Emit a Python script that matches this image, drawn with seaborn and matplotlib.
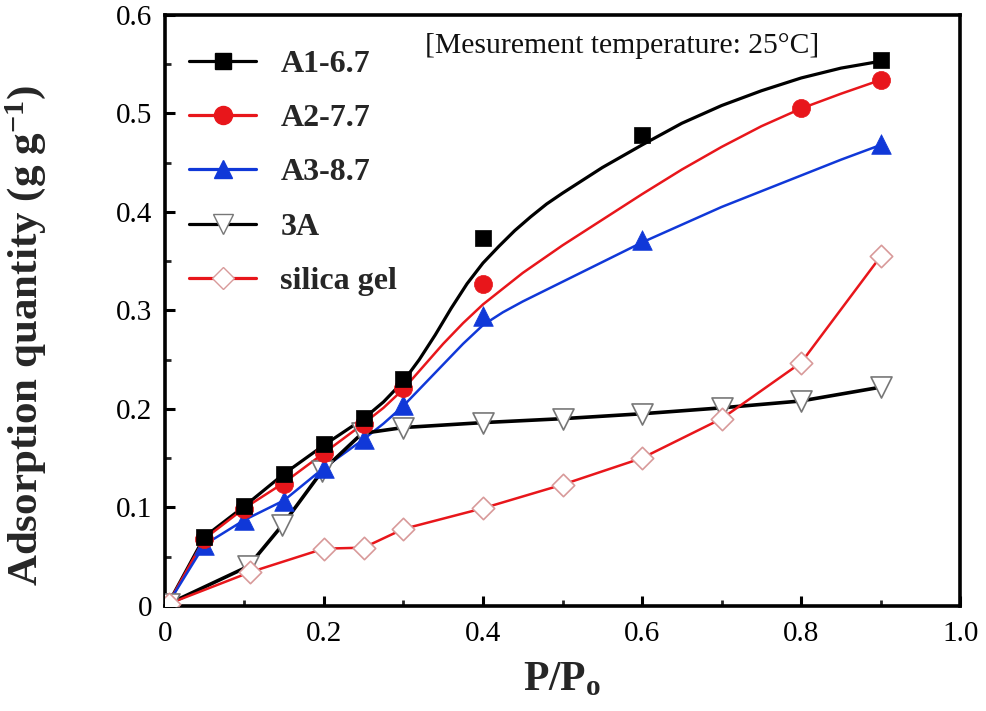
import numpy as np
import pandas as pd
import matplotlib
matplotlib.use("Agg")
import matplotlib.pyplot as plt
from matplotlib.lines import Line2D
from matplotlib.ticker import MultipleLocator
import seaborn as sns

# ---------------- data ----------------
series_names = ["A1-6.7", "A2-7.7", "A3-8.7", "3A", "silica gel"]

# measured points
p_A1 = [0.05, 0.10, 0.15, 0.20, 0.25, 0.30, 0.40, 0.60, 0.90]
q_A1 = [0.070, 0.101, 0.134, 0.164, 0.191, 0.230, 0.373, 0.478, 0.554]
p_A2 = [0.05, 0.10, 0.15, 0.20, 0.25, 0.30, 0.40, 0.80, 0.90]
q_A2 = [0.068, 0.098, 0.124, 0.155, 0.185, 0.221, 0.327, 0.505, 0.534]
p_A3 = [0.05, 0.10, 0.15, 0.20, 0.25, 0.30, 0.40, 0.60, 0.90]
q_A3 = [0.062, 0.087, 0.106, 0.140, 0.169, 0.204, 0.294, 0.371, 0.469]
p_3A = [0.005, 0.105, 0.148, 0.198, 0.248, 0.30, 0.40, 0.50, 0.60, 0.70, 0.80, 0.90]
q_3A = [0.002, 0.040, 0.082, 0.137, 0.175, 0.181, 0.186, 0.190, 0.195, 0.201, 0.208, 0.222]
p_SG = [0.005, 0.107, 0.20, 0.25, 0.30, 0.40, 0.50, 0.60, 0.70, 0.80, 0.90]
q_SG = [0.002, 0.034, 0.058, 0.059, 0.078, 0.099, 0.123, 0.150, 0.190, 0.247, 0.355]

# fitted curves
fit_p_A1 = [0.005, 0.05, 0.10, 0.15, 0.20, 0.25, 0.275, 0.30, 0.32, 0.34, 0.36, 0.38, 0.40,
            0.42, 0.44, 0.46, 0.48, 0.50, 0.55, 0.60, 0.65, 0.70, 0.75, 0.80, 0.85, 0.90]
fit_q_A1 = [0.003, 0.070, 0.101, 0.134, 0.163, 0.190, 0.207, 0.228, 0.250, 0.275, 0.302, 0.327, 0.348,
            0.365, 0.381, 0.395, 0.408, 0.419, 0.445, 0.468, 0.490, 0.508, 0.523, 0.536, 0.546, 0.553]
fit_p_A2 = [0.005, 0.05, 0.10, 0.15, 0.20, 0.25, 0.275, 0.30, 0.325, 0.35, 0.375, 0.40, 0.45,
            0.50, 0.55, 0.60, 0.65, 0.70, 0.75, 0.80, 0.85, 0.90]
fit_q_A2 = [0.003, 0.068, 0.099, 0.125, 0.155, 0.185, 0.201, 0.220, 0.243, 0.266, 0.287, 0.306, 0.338,
            0.366, 0.392, 0.418, 0.443, 0.466, 0.487, 0.505, 0.520, 0.534]
fit_p_A3 = [0.005, 0.05, 0.10, 0.15, 0.20, 0.25, 0.275, 0.30, 0.325, 0.35, 0.375, 0.40, 0.425,
            0.45, 0.50, 0.55, 0.60, 0.65, 0.70, 0.75, 0.80, 0.85, 0.90]
fit_q_A3 = [0.003, 0.062, 0.087, 0.107, 0.140, 0.169, 0.185, 0.203, 0.224, 0.245, 0.266, 0.285, 0.298,
            0.309, 0.329, 0.349, 0.369, 0.387, 0.405, 0.421, 0.437, 0.453, 0.468]

x_ticks = [0.0, 0.2, 0.4, 0.6, 0.8, 1.0]
x_ticklabels = ["0", "0.2", "0.4", "0.6", "0.8", "1.0"]
y_ticks = [0.0, 0.1, 0.2, 0.3, 0.4, 0.5, 0.6]
y_ticklabels = ["0", "0.1", "0.2", "0.3", "0.4", "0.5", "0.6"]
note_text = "[Mesurement temperature: 25°C]"

# ---------------- style ----------------
sns.set_style("ticks")
plt.rcParams["font.family"] = ["Liberation Serif", "DejaVu Serif"]
plt.rcParams["mathtext.fontset"] = "custom"
plt.rcParams["mathtext.rm"] = "Liberation Serif"
plt.rcParams["mathtext.bf"] = "Liberation Serif:bold"
plt.rcParams["mathtext.it"] = "Liberation Serif:italic"

BLACK = "#000000"
RED = "#e8161b"
BLUE = "#1038d8"

fig, ax = plt.subplots(figsize=(9.86, 7.11), dpi=100)
fig.subplots_adjust(left=0.167, right=0.974, bottom=0.148, top=0.979)

# fitted curves for A-series
for fp, fq, c, lw in [(fit_p_A1, fit_q_A1, BLACK, 2.3),
                      (fit_p_A2, fit_q_A2, RED, 1.8),
                      (fit_p_A3, fit_q_A3, BLUE, 1.8)]:
    sns.lineplot(x=fp, y=fq, color=c, lw=lw, ax=ax, sort=False,
                 estimator=None, legend=False, zorder=2)

# lines through points for 3A and silica gel
sns.lineplot(x=p_3A, y=q_3A, color=BLACK, lw=2.6, ax=ax, sort=False,
             estimator=None, legend=False, zorder=2)
sns.lineplot(x=p_SG, y=q_SG, color=RED, lw=1.8, ax=ax, sort=False,
             estimator=None, legend=False, zorder=2)

# markers
sns.scatterplot(x=p_3A, y=q_3A, marker="v", s=230, color="white",
                edgecolor="#777777", linewidth=1.2, ax=ax, zorder=4, legend=False)
sns.scatterplot(x=p_SG, y=q_SG, marker="D", s=130, color="white",
                edgecolor="#d89a9a", linewidth=1.2, ax=ax, zorder=4, legend=False)
sns.scatterplot(x=p_A3, y=q_A3, marker="^", s=200, color=BLUE,
                edgecolor=BLUE, linewidth=0.5, ax=ax, zorder=5, legend=False)
sns.scatterplot(x=p_A2, y=q_A2, marker="o", s=170, color=RED,
                edgecolor=RED, linewidth=0.5, ax=ax, zorder=6, legend=False)
sns.scatterplot(x=p_A1, y=q_A1, marker="s", s=140, color=BLACK,
                edgecolor=BLACK, linewidth=0.5, ax=ax, zorder=7, legend=False)

# axes
ax.set_xlim(0, 1.0)
ax.set_ylim(0, 0.6)
ax.set_xticks(x_ticks)
ax.set_xticklabels(x_ticklabels)
ax.set_yticks(y_ticks)
ax.set_yticklabels(y_ticklabels)
ax.xaxis.set_minor_locator(MultipleLocator(0.1))
ax.yaxis.set_minor_locator(MultipleLocator(0.05))
ax.tick_params(axis="both", which="major", direction="in", length=7, width=2.2,
               labelsize=21, colors=BLACK)
ax.tick_params(axis="both", which="minor", direction="in", length=4, width=2.0)
ax.tick_params(axis="x", which="major", pad=11)
ax.tick_params(axis="y", which="major", pad=9)
for sp in ax.spines.values():
    sp.set_linewidth(2.6)
    sp.set_color(BLACK)
    sp.set_visible(True)

ax.set_xlabel(r"P/P$_\mathbf{o}$", fontsize=30, fontweight="bold", labelpad=10)
ax.set_ylabel(r"Adsorption quantity (g g$^\mathbf{-1}$)", fontsize=31,
              fontweight="bold")
ax.yaxis.set_label_coords(-0.147, 0.457)

ax.text(0.327, 0.568, note_text, fontsize=21.3, va="center", ha="left",
        color="#111111")

# legend
handles = [
    Line2D([], [], color=BLACK, lw=2.3, marker="s", markersize=11,
           markerfacecolor=BLACK, markeredgecolor=BLACK),
    Line2D([], [], color=RED, lw=2.3, marker="o", markersize=13,
           markerfacecolor=RED, markeredgecolor=RED),
    Line2D([], [], color=BLUE, lw=2.3, marker="^", markersize=13,
           markerfacecolor=BLUE, markeredgecolor=BLUE),
    Line2D([], [], color=BLACK, lw=2.3, marker="v", markersize=15,
           markerfacecolor="white", markeredgecolor="#777777"),
    Line2D([], [], color=RED, lw=2.3, marker="D", markersize=11,
           markerfacecolor="white", markeredgecolor="#d89a9a"),
]
leg = ax.legend(handles, series_names, loc="upper left", frameon=False,
                bbox_to_anchor=(0.0, 0.983), borderaxespad=0.37,
                handlelength=2.1, handletextpad=0.75, labelspacing=0.78,
                prop={"family": "Liberation Serif", "weight": "bold", "size": 23})

fig.savefig("out.png", dpi=100)
